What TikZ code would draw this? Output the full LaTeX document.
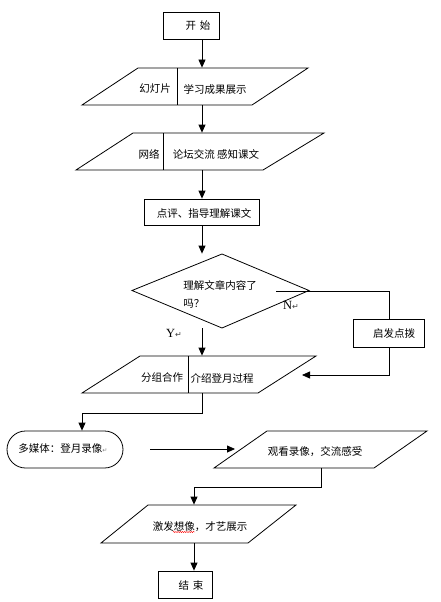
\documentclass[tikz,border=0pt]{standalone}
\usepackage{fontspec}
\setmainfont{Liberation Serif}
\newfontfamily\cjk{Noto Sans CJK SC}
\newfontfamily\symf{DejaVu Sans}
\usetikzlibrary{arrows.meta,decorations.pathmorphing}
\begin{document}
\begin{tikzpicture}[x=1pt,y=-1pt,
  line width=0.8pt,
  arr/.style={-{Triangle[length=8pt,width=7pt]}},
  boxshape/.style={draw,rectangle,inner sep=0pt},
  ghost/.style={inner sep=0pt,rectangle},
  txt/.style={inner sep=0pt,font=\cjk\fontsize{10.5}{12}\selectfont},
  lat/.style={inner sep=0pt,font=\fontsize{12.5}{14}\selectfont}
]
\useasboundingbox (0,0) rectangle (441,602);
\coordinate (mx) at (202,0);

% start
\node[boxshape,minimum width=56pt,minimum height=27pt] (start) at (191,25.5) {};
\node[txt] (tstart) at (198,25.5) {开\hspace{4pt}始};

% parallelogram 1
\draw (138,68) -- (308,68) -- (252,105) -- (82,105) -- cycle;
\draw (177,68) -- (177,105);
\node[ghost,minimum width=170pt,minimum height=37pt] (p1) at (195,86.5) {};
\node[txt] (t1a) at (155,89) {幻灯片};
\node[txt] (t1b) at (215,89) {学习成果展示};

% parallelogram 2
\draw (133,133) -- (324,133) -- (263,170) -- (76,170) -- cycle;
\draw (163,133) -- (163,170);
\node[ghost,minimum width=190pt,minimum height=37pt] (p2) at (199,151.5) {};
\node[txt] (t2a) at (149,154) {网络};
\node[txt] (t2b) at (216,154) {论坛交流\ 感知课文};

% box 3
\node[boxshape,minimum width=115pt,minimum height=26pt] (b3) at (201.5,212) {};
\node[txt] (t3) at (204,213) {点评、指导理解课文};

% diamond
\draw (222,254) -- (309,290.5) -- (222,328) -- (132,290.5) -- cycle;
\node[ghost,minimum width=177pt,minimum height=74pt] (d) at (221,291) {};
\node[txt,anchor=west] (td1) at (183,285) {理解文章内容了};
\node[txt,anchor=west] (td2) at (183,304) {吗？};

% N branch box
\node[boxshape,minimum width=71pt,minimum height=28pt] (nb) at (389,333) {};
\node[txt] (tnb) at (394,334) {启发点拨};
\node[lat] (lN) at (291,305) {N\textcolor{darkgray}{\symf\fontsize{8}{9}\selectfont ↵}};
\node[lat] (lY) at (174,333) {Y\textcolor{darkgray}{\symf\fontsize{8}{9}\selectfont ↵}};

% parallelogram 4
\draw (140,356) -- (316,356) -- (258,393) -- (82,393) -- cycle;
\draw (188,356) -- (188,393);
\node[ghost,minimum width=176pt,minimum height=37pt] (p4) at (199,374.5) {};
\node[txt] (t4a) at (162,378) {分组合作};
\node[txt] (t4b) at (222,378) {介绍登月过程};

% rounded box
\node[draw,rectangle,rounded corners=18.5pt,minimum width=116pt,minimum height=37pt,inner sep=0pt] (r5) at (65,449.5) {};
\node[txt] (t5) at (63,449) {多媒体：登月录像\textcolor{gray}{\symf\fontsize{6}{7}\selectfont ↵}};

% parallelogram 5
\draw (267,431) -- (427,431) -- (374,468) -- (214,468) -- cycle;
\node[ghost,minimum width=160pt,minimum height=37pt] (p5) at (320.5,449.5) {};
\node[txt] (t6) at (315,452) {观看录像，交流感受};

% parallelogram 6
\draw (148,505) -- (296,505) -- (248,543) -- (101,543) -- cycle;
\node[ghost,minimum width=148pt,minimum height=38pt] (p6) at (198.5,524) {};
\node[txt] (t7) at (200,527) {激发想像，才艺展示};
\draw[red,line width=0.4pt,decorate,decoration={snake,amplitude=0.6pt,segment length=2.2pt}] (173,532) -- (195,532);

% end
\node[boxshape,minimum width=54pt,minimum height=27pt] (end) at (185,584.5) {};
\node[txt] (tend) at (191,585) {结\hspace{4pt}束};

% connectors
\draw[arr] (start.south -| mx) -- (p1.north -| mx);
\draw[arr] (p1.south -| mx) -- (p2.north -| mx);
\draw[arr] (p2.south -| mx) -- (b3.north -| mx);
\draw[arr] (b3.south -| mx) -- (d.north -| mx);

\coordinate (nstart) at (276,291);
\draw (nstart) -| (nb.north);
\coordinate (ret) at (302,375);
\draw[arr] (nb.south) |- (ret);

\draw[arr] (d.south -| mx) -- (p4.north -| mx);

\coordinate (k1) at (202,413);
\coordinate (k2) at (82,413);
\draw[arr] (p4.south -| mx) -- (k1) -- (k2) -- (k2 |- r5.north);

\coordinate (a1) at (150,449);
\coordinate (a2) at (235,449);
\draw[arr] (a1) -- (a2);

\coordinate (k3) at (321,487);
\coordinate (k4) at (194,487);
\draw[arr] (p5.south -| k3) -- (k3) -- (k4) -- (k4 |- p6.north);

\draw[arr] (p6.south -| k4) -- (end.north -| k4);
\end{tikzpicture}
\end{document}
